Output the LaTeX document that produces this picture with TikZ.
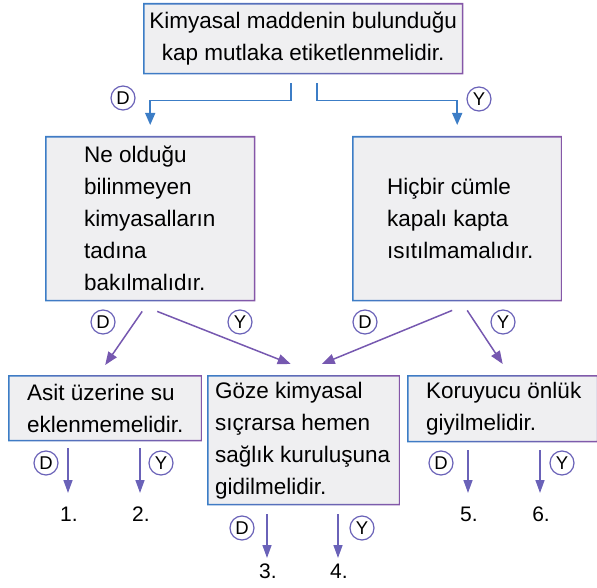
\documentclass[tikz,border=0pt]{standalone}
\usepackage{fontspec}
\setmainfont{Liberation Sans}
\usetikzlibrary{arrows.meta,calc}
\definecolor{cblue}{HTML}{3C7DC6}
\definecolor{cpurp}{HTML}{8557A8}
\definecolor{cmid}{HTML}{6A62B8}
\definecolor{cmidp}{HTML}{7658B0}
\definecolor{boxfill}{HTML}{EFEFF1}
\newcommand{\gframe}[1]{\shade[left color=cblue,right color=cpurp,even odd rule] (#1.north west) rectangle (#1.south east) ($(#1.north west)+(1.6,1.6)$) rectangle ($(#1.south east)+(-1.6,-1.6)$);}
\begin{document}
\begin{tikzpicture}[x=1pt,y=-1pt,
  boxbase/.style={fill=boxfill, draw=none, anchor=north west, inner ysep=0pt,
    font=\fontsize{22.5}{32}\selectfont},
  lbox/.style n args={3}{boxbase, minimum width=#1, minimum height=#2,
    inner xsep=#3, text width=#1-2*#3, align=flush left},
  circ/.style={circle, draw=cmid, line width=1.2pt, fill=white, inner sep=0pt,
    minimum size=24pt, font=\fontsize{18.5}{18.5}\selectfont},
  num/.style={inner sep=0pt, font=\fontsize{21}{21}\selectfont},
  tarr/.style={draw=cblue, line width=1.5pt, -{Triangle[width=10pt,length=12pt]}, cblue},
  marr/.style={draw=cmidp, line width=1.5pt, -{Triangle[width=10pt,length=13pt]}, cmidp},
  barr/.style={draw=cmid, line width=1.5pt, -{Triangle[width=9pt,length=13pt]}, cmid},
]
\useasboundingbox (0,0) rectangle (597,588);

% boxes
\node[boxbase, minimum width=320, minimum height=71, inner xsep=4, align=center] (b0) at (143,3)
  {Kimyasal maddenin bulunduğu\\kap mutlaka etiketlenmelidir.};
\node[lbox={210}{165}{39}] (b1) at (45,136)
  {\mbox{Ne olduğu}\\\mbox{bilinmeyen}\\\mbox{kimyasalların}\\\mbox{tadına}\\\mbox{bakılmalıdır.}};
\node[lbox={210}{165}{35}] (b2) at (352,136)
  {\mbox{Hiçbir cümle}\\\mbox{kapalı kapta}\\\mbox{ısıtılmamalıdır.}};
\node[lbox={194}{66}{19}] (b3) at (8,375)
  {\mbox{Asit üzerine su}\\\mbox{eklenmemelidir.}};
\node[lbox={193}{130}{8}] (b4) at (207,375)
  {\mbox{Göze kimyasal}\\\mbox{sıçrarsa hemen}\\\mbox{sağlık kuruluşuna}\\\mbox{gidilmelidir.}};
\node[lbox={191}{67}{19}] (b5) at (407,375)
  {\mbox{Koruyucu önlük}\\\mbox{giyilmelidir.}};
\gframe{b0}\gframe{b1}\gframe{b2}\gframe{b3}\gframe{b4}\gframe{b5}

% top connectors
\draw[tarr] ($(b0.south)+(-12,9)$) -- ++(0,17) -| ($(b1.north)+(0,-11)$);
\draw[tarr] ($(b0.south)+(14,9)$) -- ++(0,17) -| ($(b2.north)+(0,-11)$);
\node[circ] (c0d) at (123,98) {D};
\node[circ] (c0y) at (479,99) {Y};

% middle connectors
\draw[marr] ($(b1.south)+(-8,10)$) -- ($(b3.north)+(0,-10)$);
\draw[marr] ($(b1.south)+(7,10)$) -- ($(b4.north)+(-13,-11)$);
\draw[marr] ($(b2.south)+(-5,9)$) -- ($(b4.north)+(18,-11)$);
\draw[marr] ($(b2.south)+(10,9)$) -- ($(b5.north)+(0,-11)$);
\node[circ] (c1d) at (103,322) {D};
\node[circ] (c1y) at (240,322) {Y};
\node[circ] (c2d) at (365,322) {D};
\node[circ] (c2y) at (503,322) {Y};

% bottom labels
\node[num] (n1) at (69,514) {1.};
\node[num] (n2) at (141,514) {2.};
\node[num] (n3) at (268,571) {3.};
\node[num] (n4) at (339,571) {4.};
\node[num] (n5) at (469,514) {5.};
\node[num] (n6) at (541,514) {6.};

\draw[barr] ($(n1.center |- b3.south)+(-1,7)$) -- ($(n1.center)+(-1,-21)$);
\draw[barr] ($(n2.center |- b3.south)+(-1,7)$) -- ($(n2.center)+(-1,-21)$);
\draw[barr] ($(n3.center |- b4.south)+(-1,9)$) -- ($(n3.center)+(-1,-13)$);
\draw[barr] ($(n4.center |- b4.south)+(-1,9)$) -- ($(n4.center)+(-1,-13)$);
\draw[barr] ($(n5.center |- b5.south)+(-1,8)$) -- ($(n5.center)+(-1,-21)$);
\draw[barr] ($(n6.center |- b5.south)+(-1,8)$) -- ($(n6.center)+(-1,-21)$);

\node[circ] (c3d) at (46,463) {D};
\node[circ] (c3y) at (161,463) {Y};
\node[circ] (c4d) at (242,528) {D};
\node[circ] (c4y) at (362,528) {Y};
\node[circ] (c5d) at (441,463) {D};
\node[circ] (c5y) at (562,463) {Y};
\end{tikzpicture}
\end{document}
